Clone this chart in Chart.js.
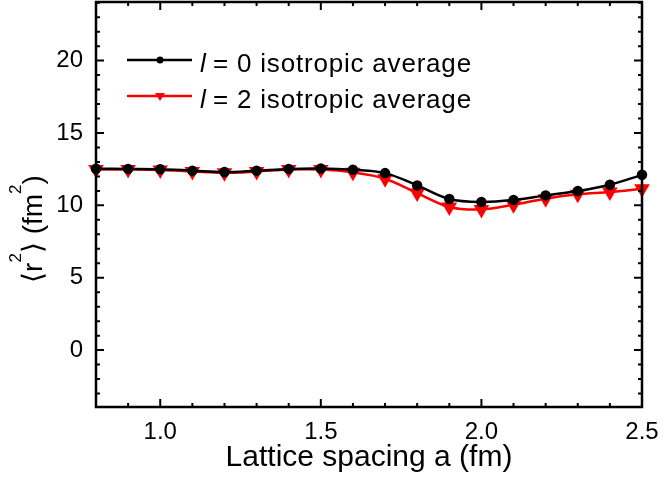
<!DOCTYPE html>
<html>
<head>
<meta charset="utf-8">
<script src="https://cdn.jsdelivr.net/npm/chart.js@4.4.0/dist/chart.umd.min.js"></script>
<style>
  html, body { margin: 0; padding: 0; background: #fff; overflow: hidden; }
  canvas { display: block; }
</style>
</head>
<body>
<canvas id="chart" width="664" height="477" style="width:664px;height:477px"></canvas>
<script>
// lattice spacing values (fm)
const spacing = [0.8, 0.9, 1.0, 1.1, 1.2, 1.3, 1.4, 1.5, 1.6, 1.7, 1.8, 1.9, 2.0, 2.1, 2.2, 2.3, 2.4, 2.5];
// <r^2> for l = 0 and l = 2, isotropic averages
const r2L0 = [12.53, 12.52, 12.5, 12.4, 12.3, 12.4, 12.52, 12.55, 12.46, 12.23, 11.38, 10.44, 10.23, 10.37, 10.69, 10.99, 11.43, 12.11];
const r2L2 = [12.48, 12.48, 12.45, 12.34, 12.25, 12.34, 12.48, 12.48, 12.28, 11.84, 10.85, 9.89, 9.72, 10.04, 10.46, 10.76, 10.92, 11.15];
const xTicks = [1.0, 1.5, 2.0, 2.5];
const yTicks = [0, 5, 10, 15, 20];
const seriesNames = ['= 0 isotropic average', '= 2 isotropic average'];

const FONT = "'Liberation Sans', Arial, sans-serif";

// ticks pointing inward on all four sides + frame + legend + y title
const frameTicks = {
    id: 'frameTicks',
    afterDraw(chart) {
        const ctx = chart.ctx;
        const a = chart.chartArea;
        const xs = chart.scales.x, ys = chart.scales.y;
        ctx.save();
        ctx.strokeStyle = '#000';
        ctx.lineWidth = 2;
        for (let i = 8; i <= 25; i++) {
            const px = xs.getPixelForValue(i / 10);
            const len = (i % 5 === 0) ? 8 : 4;
            ctx.beginPath();
            ctx.moveTo(px, a.bottom); ctx.lineTo(px, a.bottom - len);
            ctx.moveTo(px, a.top); ctx.lineTo(px, a.top + len);
            ctx.stroke();
        }
        for (let v = -3; v <= 24; v++) {
            const py = ys.getPixelForValue(v);
            const len = (v % 5 === 0) ? 8 : 4;
            ctx.beginPath();
            ctx.moveTo(a.left, py); ctx.lineTo(a.left + len, py);
            ctx.moveTo(a.right, py); ctx.lineTo(a.right - len, py);
            ctx.stroke();
        }
        ctx.lineWidth = 2.5;
        ctx.strokeRect(a.left, a.top, a.right - a.left, a.bottom - a.top);

        // legend inside the plot
        const ds = chart.data.datasets;
        const rows = [60, 96];
        ds.forEach((d, i) => {
            const y = rows[i];
            ctx.strokeStyle = d.borderColor;
            ctx.lineWidth = 2.5;
            ctx.beginPath();
            ctx.moveTo(127, y); ctx.lineTo(192, y);
            ctx.stroke();
            ctx.fillStyle = d.borderColor;
            ctx.beginPath();
            if (i === 0) {
                ctx.arc(160, y, 3.5, 0, Math.PI * 2);
            } else {
                ctx.moveTo(155, y - 3); ctx.lineTo(165, y - 3); ctx.lineTo(160, y + 5);
                ctx.closePath();
            }
            ctx.fill();
            ctx.fillStyle = '#000';
            ctx.textBaseline = 'alphabetic';
            ctx.textAlign = 'left';
            ctx.letterSpacing = '0.8px';
            ctx.font = 'italic 26px ' + FONT;
            ctx.fillText('l', 200, y + 12);
            ctx.font = '26px ' + FONT;
            ctx.fillText(seriesNames[i], 213, y + 12);
            ctx.letterSpacing = '0px';
        });

        // y axis title with superscripts, rotated
        ctx.save();
        ctx.translate(42, 229);
        ctx.rotate(-Math.PI / 2);
        ctx.fillStyle = '#000';
        ctx.textBaseline = 'alphabetic';
        ctx.textAlign = 'left';
        const parts = [['⟨r', false], ['2', true], ['⟩ (fm', false], ['2', true], [')', false]];
        const mainFont = '28px ' + FONT, supFont = '17px ' + FONT;
        let total = 0;
        parts.forEach(p => { ctx.font = p[1] ? supFont : mainFont; total += ctx.measureText(p[0]).width; });
        let x = -total / 2;
        parts.forEach(p => {
            ctx.font = p[1] ? supFont : mainFont;
            ctx.fillText(p[0], x, p[1] ? -21 : 0);
            x += ctx.measureText(p[0]).width;
        });
        ctx.restore();
        ctx.restore();
    }
};

new Chart(document.getElementById('chart'), {
    type: 'line',
    data: {
        datasets: [
            {
                label: 'l = 0 isotropic average',
                data: spacing.map((x, i) => ({ x: x, y: r2L0[i] })),
                borderColor: '#000',
                backgroundColor: '#000',
                borderWidth: 2.5,
                pointStyle: 'circle',
                pointRadius: 4,
                tension: 0.35
            },
            {
                label: 'l = 2 isotropic average',
                data: spacing.map((x, i) => ({ x: x, y: r2L2[i] })),
                borderColor: '#ff0000',
                backgroundColor: '#ff0000',
                borderWidth: 2.5,
                pointStyle: 'triangle',
                rotation: 180,
                pointRadius: 6.5,
                tension: 0.35
            }
        ]
    },
    options: {
        responsive: false,
        devicePixelRatio: 1,
        animation: false,
        clip: false,
        layout: { autoPadding: false, padding: { top: 2, right: 22, left: 0, bottom: 0 } },
        plugins: {
            legend: { display: false },
            tooltip: { enabled: false }
        },
        scales: {
            x: {
                type: 'linear',
                min: 0.8,
                max: 2.5,
                afterBuildTicks: s => { s.ticks = xTicks.map(v => ({ value: v })); },
                afterFit: s => { s.height = 70; s.paddingLeft = 0; s.paddingRight = 0; },
                grid: { display: false, drawTicks: false },
                border: { display: false },
                ticks: {
                    color: '#000',
                    font: { family: FONT, size: 24 },
                    padding: 11,
                    maxRotation: 0,
                    callback: v => Number(v).toFixed(1)
                },
                title: {
                    display: true,
                    text: 'Lattice spacing a (fm)',
                    color: '#000',
                    font: { family: FONT, size: 30 },
                    padding: { top: 0, bottom: 1 }
                }
            },
            y: {
                min: -3.93,
                max: 24.05,
                afterBuildTicks: s => { s.ticks = yTicks.map(v => ({ value: v })); },
                afterFit: s => { s.width = 96; s.paddingTop = 0; s.paddingBottom = 0; },
                grid: { display: false, drawTicks: false },
                border: { display: false },
                ticks: {
                    color: '#000',
                    font: { family: FONT, size: 24 },
                    padding: 13,
                    callback: v => String(v)
                },
                title: { display: false }
            }
        }
    },
    plugins: [frameTicks]
});
</script>
</body>
</html>
